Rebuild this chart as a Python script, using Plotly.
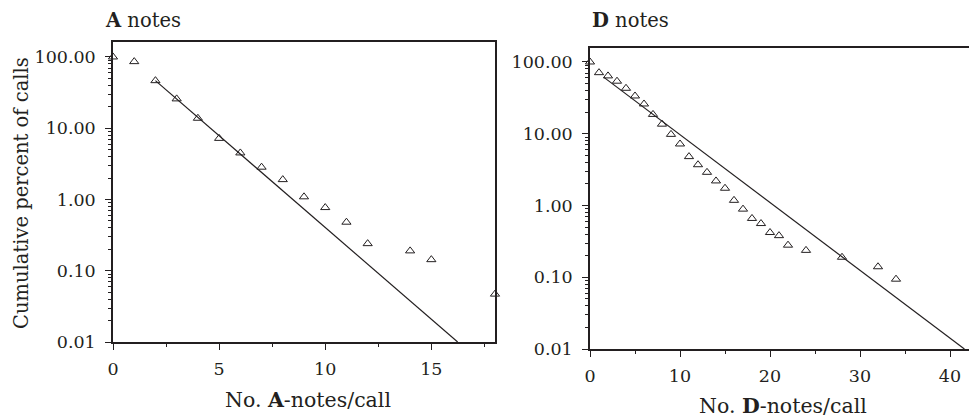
import plotly.graph_objects as go

# A notes: cumulative percent of calls vs number of A-notes per call
a_x = [0, 1, 2, 3, 4, 5, 6, 7, 8, 9, 10, 11, 12, 14, 15, 18]
a_y = [100, 86, 46.5, 25.8, 13.8, 7.2, 4.5, 2.84, 1.9, 1.09, 0.77, 0.48, 0.24, 0.19, 0.143, 0.047]
a_fit_x = [2, 16.24]
a_fit_y = [46.5, 0.01]

# D notes
d_x = [0, 1, 2, 3, 4, 5, 6, 7, 8, 9, 10, 11, 12, 13, 14, 15, 16, 17, 18, 19, 20, 21, 22, 24, 28, 32, 34]
d_y = [100, 71, 64, 54, 43, 33.6, 26, 18.6, 13.6, 9.8, 7.2, 4.8, 3.7, 2.9, 2.2, 1.74, 1.18,
       0.89, 0.66, 0.56, 0.42, 0.38, 0.28, 0.237, 0.19, 0.14, 0.094]
d_fit_x = [1.55, 41.6]
d_fit_y = [61, 0.01]

y_tickvals = [0.01, 0.1, 1, 10, 100]
y_ticktext = ["0.01", "0.10", "1.00", "10.00", "100.00"]

W, H = 969, 417
FONT = "DejaVu Serif"
ink = "#231f20"

fig = go.Figure()

marker = dict(symbol="triangle-up-open", size=8, color=ink, line=dict(width=1, color=ink))

fig.add_trace(go.Scatter(x=a_x, y=a_y, mode="markers", marker=marker, cliponaxis=False,
                         xaxis="x", yaxis="y", showlegend=False))
fig.add_trace(go.Scatter(x=a_fit_x, y=a_fit_y, mode="lines", line=dict(color=ink, width=1.2),
                         xaxis="x", yaxis="y", showlegend=False))
fig.add_trace(go.Scatter(x=d_x, y=d_y, mode="markers", marker=marker, cliponaxis=False,
                         xaxis="x2", yaxis="y2", showlegend=False))
fig.add_trace(go.Scatter(x=d_fit_x, y=d_fit_y, mode="lines", line=dict(color=ink, width=1.2),
                         xaxis="x2", yaxis="y2", showlegend=False))

tickfont = dict(family=FONT, size=17.5, color=ink)
labfont = dict(family=FONT, size=19.5, color=ink)

def xax(x0, x1, rng, dtick, minor):
    return dict(domain=[x0 / W, x1 / W], range=rng, dtick=dtick, tick0=0, automargin=False,
                showgrid=False, zeroline=False, showline=True, linecolor=ink, linewidth=1.5,
                mirror=True, ticks="outside", ticklen=6, tickcolor=ink, ticklabelstandoff=4,
                minor=dict(ticks="outside", ticklen=3, dtick=minor, tickcolor=ink),
                tickfont=tickfont)

def yax(y0, y1, top):
    return dict(type="log", domain=[(H - y1) / H, (H - y0) / H], range=[-2, top],
                tickvals=y_tickvals, ticktext=y_ticktext, automargin=False,
                showgrid=False, zeroline=False, showline=True, linecolor=ink, linewidth=1.5,
                mirror=True, ticks="outside", ticklen=6, tickcolor=ink, ticklabelstandoff=6,
                minor=dict(ticks="outside", ticklen=3, dtick="D1", tickcolor=ink),
                tickfont=tickfont)

def label(text, x, y, xanchor="center", angle=0, size=19.5):
    return dict(text=text, x=x / W, y=1 - y / H, xref="paper", yref="paper",
                xanchor=xanchor, yanchor="middle", showarrow=False, textangle=angle,
                font=dict(labfont, size=size))

fig.update_layout(
    width=W, height=H,
    margin=dict(l=0, r=0, t=0, b=0),
    paper_bgcolor="white", plot_bgcolor="white",
    xaxis=xax(113, 495, [0, 18], 5, 2.5),
    yaxis=yax(42, 342, 2.21),
    # right panel runs up to the right edge of the picture
    xaxis2=dict(xax(590, 969, [0, 42.11], 10, 5), anchor="y2"),
    yaxis2=dict(yax(48, 349, 2.195), anchor="x2"),
    annotations=[
        label("<b>A</b> notes", 103, 20, "left"),
        label("<b>D</b> notes", 590, 20, "left"),
        label("No. <b>A</b>-notes/call", 308, 400, size=20.5),
        label("No. <b>D</b>-notes/call", 783, 406, size=20.5),
        label("Cumulative percent of calls", 21, 193, angle=-90),
    ],
)

fig.write_html("out.html", config={"displayModeBar": False},
               post_script="document.body.style.margin='0px';")
